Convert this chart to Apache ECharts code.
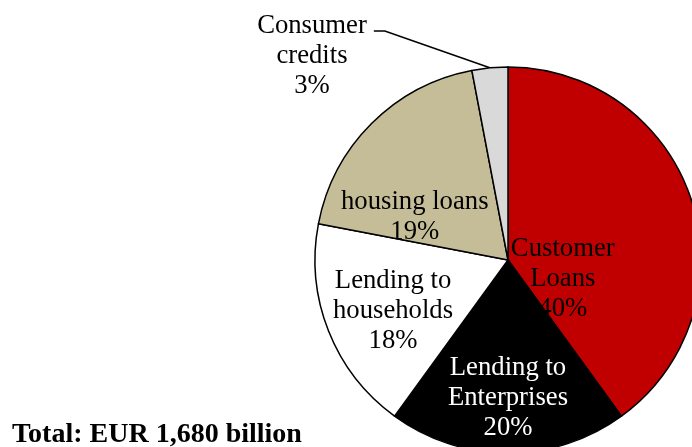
<!DOCTYPE html>
<html>
<head>
<meta charset="utf-8">
<script src="https://cdn.jsdelivr.net/npm/echarts@6/dist/echarts.min.js"></script>
<style>
  html, body { margin: 0; padding: 0; background: #fff; }
  #chart { width: 692px; height: 447px; }
</style>
</head>
<body>
<div id="chart"></div>
<script>
// Loan portfolio breakdown (shares of total, %)
const categories = ['Customer Loans', 'Lending to Enterprises', 'Lending to households', 'housing loans', 'Consumer credits'];
const labelTexts = ['Customer\nLoans', 'Lending to\nEnterprises', 'Lending to\nhouseholds', 'housing loans', 'Consumer\ncredits'];
const values = [40, 20, 18, 19, 3];
const totalText = 'Total: EUR 1,680 billion';

// Styling
const sliceColors = ['#C00000', '#000000', '#FFFFFF', '#C4BD97', '#D9D9D9'];
const labelColors = ['#000000', '#FFFFFF', '#000000', '#000000', '#000000'];
const outsideLabel = [false, false, false, false, true];

// Pie geometry and label anchors (angle clockwise from 12 o'clock, distance as fraction of radius)
const pieCenter = [508, 260];
const pieRadius = 193;
const labelAnchors = [[109, 0.30], [180, 0.715], [246, 0.652], [295, 0.533], [316.15, 1.466]];

const FONT = '"Liberation Serif", "Times New Roman", serif';

function polar(angleDeg, dist) {
  const a = angleDeg * Math.PI / 180;
  return [pieCenter[0] + dist * Math.sin(a), pieCenter[1] - dist * Math.cos(a)];
}

const sum = values.reduce((s, v) => s + v, 0);
function midAngle(i) {
  let before = 0;
  for (let k = 0; k < i; k++) before += values[k];
  return (before + values[i] / 2) / sum * 360;
}

const chart = echarts.init(document.getElementById('chart'), null, { renderer: 'canvas' });

chart.setOption({
  animation: false,
  backgroundColor: '#FFFFFF',
  graphic: [{
    type: 'text',
    left: 12,
    top: 421,
    style: {
      text: totalText,
      font: 'bold 28px ' + FONT,
      fill: '#000000'
    }
  }],
  series: [{
    type: 'pie',
    center: pieCenter,
    radius: pieRadius,
    startAngle: 90,
    clockwise: true,
    avoidLabelOverlap: false,
    silent: true,
    itemStyle: { borderColor: '#000000', borderWidth: 1.5 },
    label: {
      fontFamily: FONT,
      fontSize: 26.7,
      lineHeight: 30,
      align: 'center',
      formatter: p => labelTexts[p.dataIndex] + '\n' + values[p.dataIndex] + '%'
    },
    labelLine: {
      show: true,
      length: 20,
      length2: 10,
      lineStyle: { color: '#000000', width: 1.6 }
    },
    labelLayout: function (params) {
      const i = params.dataIndex;
      const anchor = labelAnchors[i];
      const pos = polar(anchor[0], anchor[1] * pieRadius);
      const out = { x: pos[0], y: pos[1], align: 'center', verticalAlign: 'middle' };
      if (outsideLabel[i]) {
        // leader line: from the slice rim, up to a short horizontal tick beside the first text line
        const w = params.labelRect.width;
        const h = params.labelRect.height;
        const right = pos[0] + w / 2;
        const top = pos[1] - h / 2;
        const edge = polar(midAngle(i), pieRadius);
        const lineY = top + 20;
        out.labelLinePoints = [edge, [right + 18, lineY], [right + 7, lineY]];
      }
      return out;
    },
    data: values.map((v, i) => ({
      name: categories[i],
      value: v,
      itemStyle: { color: sliceColors[i] },
      label: { position: outsideLabel[i] ? 'outside' : 'inside', color: labelColors[i] },
      labelLine: { show: outsideLabel[i] }
    }))
  }]
});
</script>
</body>
</html>
